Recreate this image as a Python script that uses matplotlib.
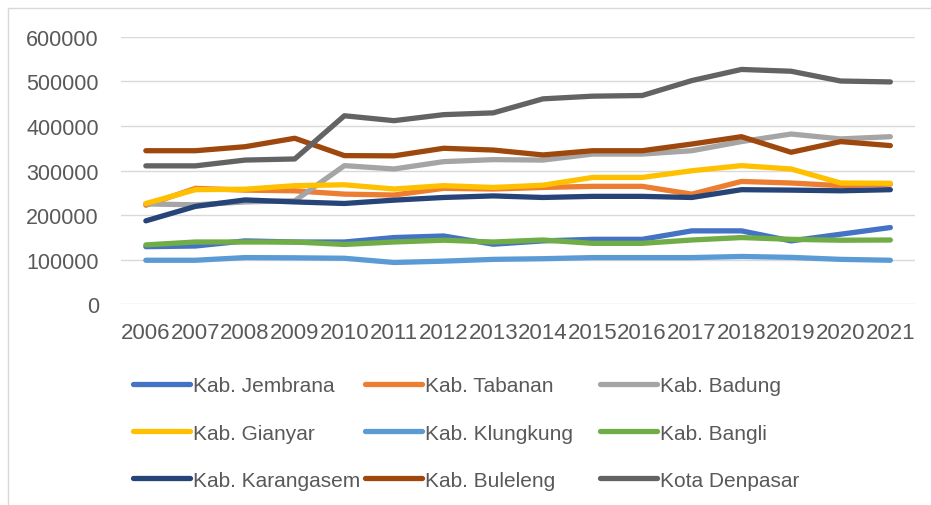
import matplotlib.pyplot as plt
from matplotlib.patches import Rectangle

years = [str(y) for y in range(2006, 2022)]

jembrana   = [129000, 130500, 142000, 139500, 139500, 149500, 153000, 134500,
              142000, 145500, 145500, 164500, 164500, 142000, 157000, 172000]
tabanan    = [222000, 260000, 256000, 254500, 247000, 245000, 260000, 258500,
              262000, 264500, 264500, 247000, 275500, 272000, 266000, 269500]
badung     = [225000, 223000, 229500, 232000, 311000, 303500, 320000, 324500,
              323500, 337000, 337000, 344500, 365000, 382000, 371000, 376000]
gianyar    = [226000, 257000, 258000, 266000, 268000, 258500, 266000, 262000,
              267000, 284500, 284500, 299500, 311000, 303500, 272000, 271500]
klungkung  = [98500, 98500, 104500, 104000, 103000, 93500, 96500, 100500,
              102000, 104500, 104500, 104500, 107000, 105000, 100500, 98500]
bangli     = [133000, 139500, 139500, 139500, 134000, 139500, 143500, 139500,
              144000, 136500, 136500, 144000, 149500, 145500, 143500, 144000]
karangasem = [187000, 219500, 234000, 229500, 226000, 233500, 239500, 243000,
              239500, 242000, 242000, 239500, 257000, 256000, 254500, 257000]
buleleng   = [344500, 344500, 353500, 372500, 333500, 333000, 350000, 346000,
              335000, 344500, 344500, 359500, 376000, 341000, 365000, 356000]
denpasar   = [310500, 310500, 323500, 326000, 423000, 412000, 425500, 429500,
              461000, 467000, 468500, 502000, 527000, 523000, 501000, 499000]

names = ['Kab. Jembrana', 'Kab. Tabanan', 'Kab. Badung', 'Kab. Gianyar',
         'Kab. Klungkung', 'Kab. Bangli', 'Kab. Karangasem', 'Kab. Buleleng',
         'Kota Denpasar']
series = [jembrana, tabanan, badung, gianyar, klungkung, bangli,
          karangasem, buleleng, denpasar]
colors = ['#4472C4', '#ED7D31', '#A5A5A5', '#FFC000', '#5B9BD5', '#70AD47',
          '#264478', '#9E480E', '#636363']

plt.rcParams['font.family'] = 'Liberation Sans'
txt = '#595959'

fig = plt.figure(figsize=(9.31, 5.06), dpi=100)
ax = fig.add_axes([0.130, 0.397, 0.853, 0.528])

x = range(len(years))
handles = []
for vals, name, c in zip(series, names, colors):
    h, = ax.plot(x, vals, color=c, lw=3.8, solid_capstyle='round',
                 solid_joinstyle='round', label=name)
    handles.append(h)

ax.set_xlim(-0.5, len(years) - 0.5)
ax.set_ylim(0, 600000)
ax.set_yticks(range(0, 600001, 100000))
ax.set_xticks(list(x))
ax.set_xticklabels(years)
ax.grid(axis='y', color='#d9d9d9', lw=1.0)
ax.set_axisbelow(True)
for s in ax.spines.values():
    s.set_visible(False)
ax.tick_params(axis='both', length=0, labelsize=15.5, colors=txt)
ax.tick_params(axis='x', labelsize=16)
ax.tick_params(axis='y', pad=16)
ax.tick_params(axis='x', pad=13)

# legend: one legend per column so the columns sit where Excel put them
col_x = [133, 365, 600]
for j, cx in enumerate(col_x):
    idx = [j, j + 3, j + 6]
    fig.legend([handles[i] for i in idx], [names[i] for i in idx],
               loc='center left', bbox_to_anchor=(cx / 931, 1 - 434 / 506),
               frameon=False, fontsize=15, labelcolor=txt,
               handlelength=2.75, handletextpad=0.15, labelspacing=1.35,
               borderpad=0, borderaxespad=0)

fig.patches.append(Rectangle((8 / 931, -0.1), 1.0, 1.1 - 9 / 506,
                             transform=fig.transFigure, fill=False,
                             edgecolor='#d9d9d9', lw=1.0))

fig.savefig('out.png', dpi=100)
